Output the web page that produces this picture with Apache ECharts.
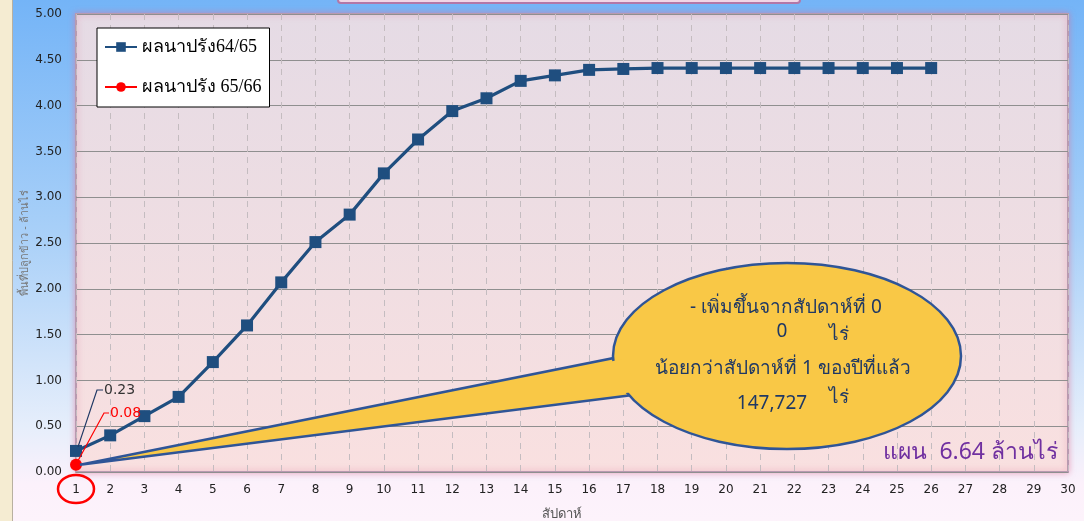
<!DOCTYPE html>
<html><head><meta charset="utf-8">
<script src="https://cdn.jsdelivr.net/npm/echarts@6/dist/echarts.min.js"></script>
<style>html,body{margin:0;padding:0;}#c{width:1084px;height:521px;}</style>
</head><body><div id="c"></div>
<script>
const weeks = ['1','2','3','4','5','6','7','8','9','10','11','12','13','14','15','16','17','18','19','20','21','22','23','24','25','26','27','28','29','30'];
const yTicks = [0, 0.5, 1, 1.5, 2, 2.5, 3, 3.5, 4, 4.5, 5];
const series6465 = [0.23,0.40,0.61,0.82,1.20,1.60,2.07,2.51,2.81,3.26,3.63,3.94,4.08,4.27,4.33,4.39,4.40,4.41,4.41,4.41,4.41,4.41,4.41,4.41,4.41,4.41];
const series6566 = [0.08];
const name6465 = 'ผลนาปรัง64/65';
const name6566 = 'ผลนาปรัง 65/66';
const calloutLines = ['- เพิ่มขึ้นจากสัปดาห์ที่ 0', '0', 'ไร่', 'น้อยกว่าสัปดาห์ที่ 1 ของปีที่แล้ว', '147,727', 'ไร่'];
const planText = 'แผน  6.64 ล้านไร่';
const yName = 'พื้นที่ปลูกข้าว - ล้านไร่';
const xName = 'สัปดาห์';

const FONT = 'Tahoma, "DejaVu Sans", "Noto Sans", sans-serif';
const THAI = 'Tahoma, "Noto Sans", "DejaVu Sans", sans-serif';
const SERIF = '"Liberation Serif", "Noto Serif", serif';

const chart = echarts.init(document.getElementById('c'));
const option = {
  backgroundColor: {type:'linear', x:0, y:0, x2:0, y2:1, colorStops:[
    {offset:0, color:'#74b4f7'},{offset:0.45, color:'#a9d0f8'},{offset:0.82, color:'#e6eefb'},{offset:0.93, color:'#fcf1fb'},{offset:1, color:'#fdf3fb'}]},
  animation:false,
  grid:{left:76, right:16, top:14, bottom:49, show:true, outerBoundsMode:'none', containLabel:false,
    backgroundColor:{type:'linear', x:0, y:0, x2:0, y2:1, colorStops:[{offset:0,color:'#e5dbe5'},{offset:1,color:'#f9e0e0'}]},
    borderColor:'#b89ab0', borderWidth:2, shadowColor:'rgba(225,110,150,0.55)', shadowBlur:6},
  legend:{orient:'vertical', left:97, top:28,
    backgroundColor:'#ffffff', borderColor:'#000', borderWidth:1, padding:[10,8,11,7],
    itemGap:22, itemWidth:32, itemHeight:12,
    textStyle:{fontFamily:SERIF, fontSize:18, color:'#000'},
    data:[name6465, name6566]},
  xAxis:{type:'category', data:weeks, boundaryGap:false,
    name:xName, nameLocation:'middle', nameGap:36, nameMoveOverlap:false,
    nameTextStyle:{fontFamily:THAI, fontSize:13, color:'#555', padding:[0,20,0,0]},
    axisLine:{show:false}, axisTick:{show:false},
    axisLabel:{interval:0, margin:12, fontFamily:FONT, fontSize:12, color:'#222'},
    splitLine:{show:true, interval:0, lineStyle:{color:'#c4bcc0', type:[6,5], width:1}}},
  yAxis:{type:'value', min:0, max:5, interval:0.5,
    name:yName, nameLocation:'middle', nameGap:46, nameMoveOverlap:false,
    nameTextStyle:{fontFamily:THAI, fontSize:11, color:'#777'},
    axisLine:{show:false}, axisTick:{show:false},
    axisLabel:{margin:14, fontFamily:FONT, fontSize:12, color:'#222', formatter:v=>v.toFixed(2)},
    splitLine:{lineStyle:{color:'#8f8f8f', width:1}}},
  series:[
    {name:name6465, type:'line', data:series6465, symbol:'rect', symbolSize:12,
      lineStyle:{color:'#1f4e7f', width:3.2}, itemStyle:{color:'#1f4e7f'}, z:5},
    {name:name6566, type:'line', data:series6566, symbol:'circle', symbolSize:12,
      lineStyle:{color:'#ff0000', width:3}, itemStyle:{color:'#ff0000'}, z:6}
  ]
};
chart.setOption(option);

const p1 = chart.convertToPixel({seriesIndex:0}, [0, series6465[0]]);
const p2 = chart.convertToPixel({seriesIndex:1}, [0, series6566[0]]);
const base = chart.convertToPixel({xAxisIndex:0, yAxisIndex:0}, [0, 0]);
const labelColor = '#1f3864';
const cx = 787, cy = 356, rx = 174, ry = 93;
const T = [p2[0]+4, p2[1]], A = [614, 358], B = [633, 395];
function lerp(P, Q, t){ return [P[0]+(Q[0]-P[0])*t, P[1]+(Q[1]-P[1])*t]; }
function ext(P, from, d){ const dx=P[0]-from[0], dy=P[1]-from[1], L=Math.hypot(dx,dy); return [P[0]+dx/L*d, P[1]+dy/L*d]; }
const A1 = ext(lerp(A, B, 0.07), T, 8), B1 = ext(lerp(B, A, 0.07), T, 8);
const A0 = lerp(lerp(T, A, 0.9), lerp(T, B, 0.9), 0.08), B0 = lerp(lerp(T, B, 0.9), lerp(T, A, 0.9), 0.08);
const tf = '19px ' + THAI;
chart.setOption({graphic:[
  {type:'rect', silent:true, z:-1, shape:{x:0, y:0, width:12, height:521}, style:{fill:'#f5ecd2'}},
  {type:'line', silent:true, z:-1, shape:{x1:12.5, y1:0, x2:12.5, y2:521}, style:{stroke:'#b8b0a0', lineWidth:1}},
  {type:'rect', silent:true, z:-1, shape:{x:338, y:-10, width:462, height:13, r:3}, style:{fill:'#f1d6e6', stroke:'#b277a7', lineWidth:2}},
  // callout
  {type:'polygon', silent:true, z:20, shape:{points:[T, A, B]}, style:{fill:'#f9c846', stroke:'#2f5597', lineWidth:2.5, lineJoin:'miter'}},
  {type:'ellipse', silent:true, z:21, shape:{cx:cx, cy:cy, rx:rx, ry:ry}, style:{fill:'#f9c846', stroke:'#2f5597', lineWidth:2.5}},
  {type:'polygon', silent:true, z:22, shape:{points:[A0, A1, B1, B0]}, style:{fill:'#f9c846'}},
  {type:'text', silent:true, z:23, style:{x:786, y:308, text:calloutLines[0], align:'center', verticalAlign:'middle', font:tf, fill:labelColor}},
  {type:'text', silent:true, z:23, style:{x:782, y:332, text:calloutLines[1], align:'center', verticalAlign:'middle', font:tf, fill:labelColor}},
  {type:'text', silent:true, z:23, style:{x:839, y:335, text:calloutLines[2], align:'center', verticalAlign:'middle', font:tf, fill:labelColor}},
  {type:'text', silent:true, z:23, style:{x:783, y:369, text:calloutLines[3], align:'center', verticalAlign:'middle', font:tf, fill:labelColor}},
  {type:'text', silent:true, z:23, style:{x:772, y:404, text:calloutLines[4], align:'center', verticalAlign:'middle', font:tf, fill:labelColor}},
  {type:'text', silent:true, z:23, style:{x:839, y:398, text:calloutLines[5], align:'center', verticalAlign:'middle', font:tf, fill:labelColor}},
  {type:'text', silent:true, z:23, style:{x:1058, y:452, text:planText, align:'right', verticalAlign:'middle', font:'23px '+THAI, fill:'#7030a0'}},
  // data labels with leaders
  {type:'polyline', silent:true, z:30, shape:{points:[[p1[0]+2, p1[1]-4], [97, 390], [103, 390]]}, style:{stroke:'#1f3864', lineWidth:1.2, fill:null}},
  {type:'text', silent:true, z:30, style:{x:104, y:390, text:series6465[0].toFixed(2), verticalAlign:'middle', font:'14px '+FONT, fill:'#333'}},
  {type:'polyline', silent:true, z:30, shape:{points:[[p2[0]+2, p2[1]-4], [104, 413], [109, 413]]}, style:{stroke:'#ff0000', lineWidth:1.2, fill:null}},
  {type:'text', silent:true, z:30, style:{x:110, y:413, text:series6566[0].toFixed(2), verticalAlign:'middle', font:'14px '+FONT, fill:'#ff0000'}},
  // red circle around first week label
  {type:'ellipse', silent:true, z:30, shape:{cx:base[0], cy:base[1]+17, rx:18, ry:14}, style:{fill:null, stroke:'#ff0000', lineWidth:2.5}}
]});
</script></body></html>
